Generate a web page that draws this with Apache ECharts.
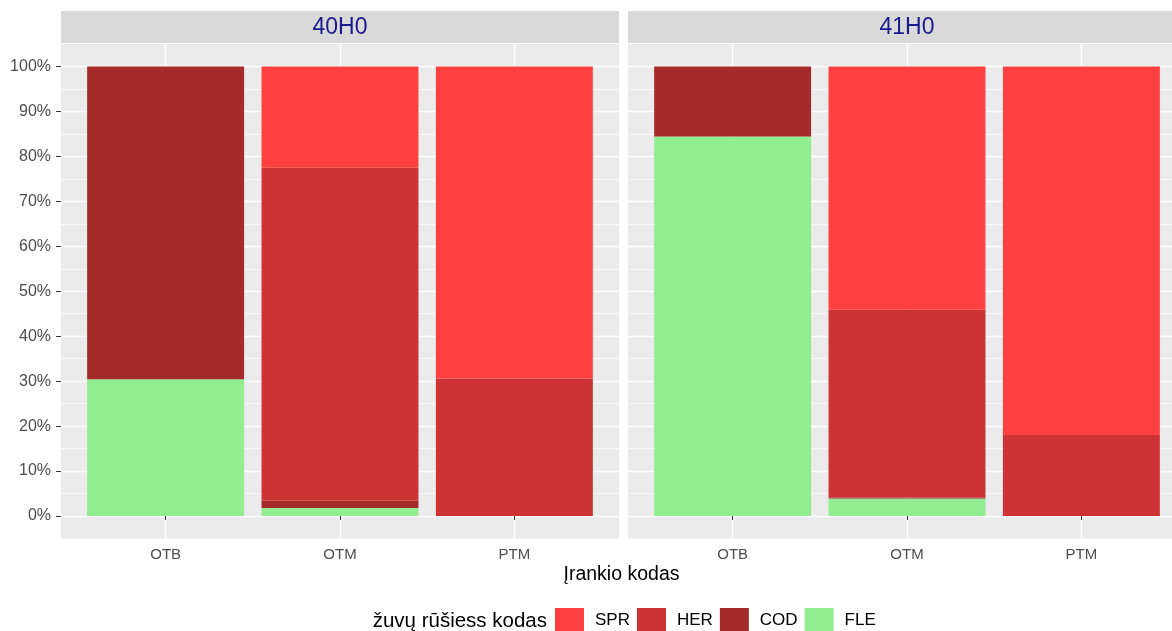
<!DOCTYPE html>
<html>
<head>
<meta charset="utf-8">
<script src="https://cdn.jsdelivr.net/npm/echarts@6/dist/echarts.min.js"></script>
<style>
  html, body { margin: 0; padding: 0; background: #ffffff; }
  #chart { width: 1172px; height: 631px; }
</style>
</head>
<body>
<div id="chart"></div>
<script>
// ---- data ----
const facets = ['40H0', '41H0'];
const categories = ['OTB', 'OTM', 'PTM'];
const speciesLegend = ['SPR', 'HER', 'COD', 'FLE'];
// percentage shares per gear (OTB, OTM, PTM)
const fle40 = [30.4, 1.8, 0];
const cod40 = [69.6, 1.6, 0];
const her40 = [0, 74.1, 30.6];
const spr40 = [0, 22.5, 69.4];
const fle41 = [84.4, 3.9, 0];
const cod41 = [15.6, 0.2, 0];
const her41 = [0, 41.8, 18.0];
const spr41 = [0, 54.1, 82.0];

const facetData = [
  { FLE: fle40, COD: cod40, HER: her40, SPR: spr40 },
  { FLE: fle41, COD: cod41, HER: her41, SPR: spr41 }
];
const stackOrder = ['FLE', 'COD', 'HER', 'SPR'];
const colors = { SPR: '#FF4040', HER: '#CD3333', COD: '#A52A2A', FLE: '#90EE90' };

// ---- layout ----
const FONT = '"Liberation Sans", Arial, sans-serif';
const panelLeft = [61, 628];
const panelWidth = 558;
const panelTop = 44;
const panelBottom = 538.5;
const panelHeight = panelBottom - panelTop;
const unit = panelWidth / 3.2;           // discrete expansion 0.6 each side
const pct = panelHeight / 110;           // continuous expansion 5% each side
const y100 = panelTop + 5 * pct;
const y0 = panelBottom - 5 * pct;

const grids = [], xAxes = [], yAxes = [], series = [], graphics = [];

facets.forEach(function (fname, f) {
  const L = panelLeft[f];
  const base = grids.length;
  // background grid
  grids.push({ left: L, top: panelTop, width: panelWidth, height: panelHeight,
    show: true, backgroundColor: '#EBEBEB', borderWidth: 0, z: 0 });
  xAxes.push({ gridIndex: base, type: 'value', show: false, min: 0, max: 1 });
  yAxes.push({ gridIndex: base, type: 'value', show: false, min: 0, max: 1 });
  // horizontal grid lines + y labels
  grids.push({ left: L, top: y100, width: panelWidth, height: y0 - y100, show: false });
  xAxes.push({ gridIndex: base + 1, type: 'value', show: false, min: 0, max: 1 });
  yAxes.push({ gridIndex: base + 1, type: 'value', min: 0, max: 100, interval: 10, z: 1,
    axisLine: { show: false },
    axisTick: { show: f === 0, length: 5, lineStyle: { color: '#333333', width: 1 } },
    axisLabel: { show: f === 0, formatter: '{value}%', color: '#4D4D4D', fontSize: 16,
      fontFamily: FONT, margin: 10 },
    splitLine: { show: true, lineStyle: { color: '#FFFFFF', width: 1.4 } },
    minorTick: { show: false, splitNumber: 2 },
    minorSplitLine: { show: true, lineStyle: { color: '#FFFFFF', width: 0.7 } }
  });
  // data grid
  grids.push({ left: L + 0.1 * unit, top: panelTop, width: 3 * unit, height: panelHeight, show: false });
  xAxes.push({ gridIndex: base + 2, type: 'category', data: categories, z: 1,
    axisLine: { show: false },
    axisTick: { show: true, alignWithLabel: true, length: 4, lineStyle: { color: '#333333' } },
    axisLabel: { color: '#4D4D4D', fontSize: 15, fontFamily: FONT, margin: 9 },
    splitLine: { show: true, alignWithLabel: true, lineStyle: { color: '#FFFFFF', width: 1.4 } }
  });
  yAxes.push({ gridIndex: base + 2, type: 'value', show: false, min: -5, max: 105,
    splitLine: { show: false } });

  stackOrder.forEach(function (sp) {
    series.push({
      name: sp, type: 'bar', stack: 'facet' + f,
      xAxisIndex: base + 2, yAxisIndex: base + 2,
      barCategoryGap: '10%',
      itemStyle: { color: colors[sp] },
      data: facetData[f][sp]
    });
  });

  // strip
  graphics.push({ type: 'rect', shape: { x: L, y: 11, width: panelWidth, height: 32 },
    style: { fill: '#D9D9D9' }, z: -1 });
  graphics.push({ type: 'text', x: L + panelWidth / 2, y: 28,
    style: { text: fname, fill: '#1A1A8C', font: '23px ' + FONT, textAlign: 'center', textVerticalAlign: 'middle' } });
});

// axis title
graphics.push({ type: 'text', x: (panelLeft[0] + panelLeft[1] + panelWidth) / 2 - 2, y: 575,
  style: { text: 'Įrankio kodas', fill: '#000000', font: '19.5px ' + FONT, textAlign: 'center', textVerticalAlign: 'middle' } });
// legend title
graphics.push({ type: 'text', x: 547, y: 621,
  style: { text: 'žuvų rūšiess kodas', fill: '#000000', font: '20.5px ' + FONT, textAlign: 'right', textVerticalAlign: 'middle' } });

const chart = echarts.init(document.getElementById('chart'), null, { renderer: 'canvas' });
chart.setOption({
  animation: false,
  backgroundColor: '#FFFFFF',
  grid: grids,
  xAxis: xAxes,
  yAxis: yAxes,
  series: series,
  legend: {
    data: speciesLegend, left: 555, top: 608, orient: 'horizontal', padding: 0,
    icon: 'rect', itemWidth: 29, itemHeight: 24, itemGap: 7,
    textStyle: { color: '#000000', fontSize: 17, fontFamily: FONT, padding: [0, 0, 0, 6] },
    selectedMode: false
  },
  graphic: graphics
});
</script>
</body>
</html>
